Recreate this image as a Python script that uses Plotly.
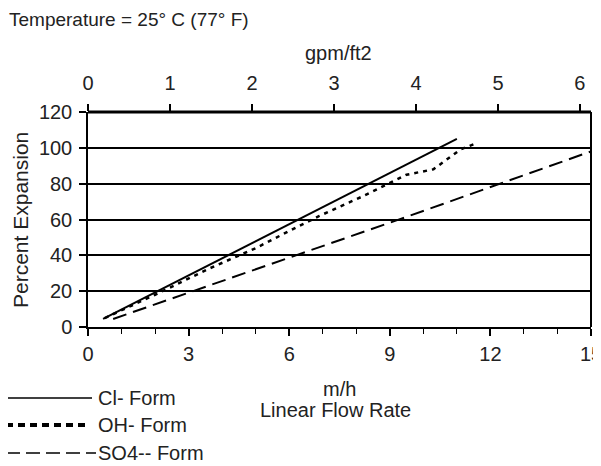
import plotly.graph_objects as go

# --- data ---
cl_x = [0.45, 11.0]
cl_y = [4.5, 105.0]
oh_x = [0.5, 2.0, 3.6, 5.0, 6.2, 6.9, 8.2, 9.5, 10.3, 11.1, 11.5]
oh_y = [5.0, 18.0, 32.5, 44.0, 55.5, 62.0, 73.0, 85.0, 88.0, 99.0, 102.0]
so4_x = [0.75, 3.0, 6.2, 9.2, 12.4, 15.0]
so4_y = [4.5, 19.0, 40.0, 59.5, 80.5, 98.0]

y_ticks = [0, 20, 40, 60, 80, 100, 120]
mh_ticks = [0, 3, 6, 9, 12, 15]
gpm_ticks = [0, 1, 2, 3, 4, 5, 6]
GPM_TO_MH = 2.445

series_names = ["Cl- Form", "OH- Form", "SO4-- Form"]

FONT = "Liberation Sans, Arial, sans-serif"
OFF = 8  # page body margin
W, H = 601 - OFF, 466 - OFF
# plot area in reference pixel coordinates
PL, PR, PT, PB = 88, 591, 112, 327
L, T = PL - OFF, PT - OFF
R, B = W - (PR - OFF), H - (PB - OFF)
PW, PH = PR - PL, PB - PT

def px(xp):
    return (xp - PL) / PW

def py(yp):
    return (PB - yp) / PH

fig = go.Figure()
fig.add_trace(go.Scatter(x=cl_x, y=cl_y, mode="lines", name=series_names[0],
                         line=dict(color="black", width=2)))
fig.add_trace(go.Scatter(x=oh_x, y=oh_y, mode="lines", name=series_names[1],
                         line=dict(color="black", width=2.5, dash="4px,5px")))
fig.add_trace(go.Scatter(x=so4_x, y=so4_y, mode="lines", name=series_names[2],
                         line=dict(color="black", width=2, dash="14px,7px")))
# invisible trace to bind the top (gpm/ft2) axis
fig.add_trace(go.Scatter(x=gpm_ticks, y=[None] * len(gpm_ticks), xaxis="x2",
                         mode="lines", showlegend=False, hoverinfo="skip"))

TF = dict(size=20, color="#222")
fig.update_layout(
    width=W, height=H,
    margin=dict(l=L, r=R, t=T, b=B, pad=0, autoexpand=False),
    paper_bgcolor="white", plot_bgcolor="white",
    showlegend=False,
    font=dict(family=FONT, size=20, color="#222"),
    xaxis=dict(range=[0, 15], tickvals=mh_ticks, ticks="outside", ticklen=7,
               tickwidth=1.5, tickcolor="black", showline=True, linecolor="black",
               linewidth=2, showgrid=False, zeroline=False, automargin=False,
               ticklabelstandoff=1, ticklabeloverflow="allow",
               minor=dict(dtick=1, ticks="outside", ticklen=5, tickcolor="black",
                          tickwidth=1.2, showgrid=False),
               tickfont=TF),
    xaxis2=dict(range=[0, 15 / GPM_TO_MH], overlaying="x", side="top",
                tickvals=gpm_ticks, ticks="outside", ticklen=7, tickwidth=1.5,
                tickcolor="black", showline=False, showgrid=False, zeroline=False,
                automargin=False, ticklabelstandoff=6, ticklabeloverflow="allow",
                tickfont=TF, anchor="y"),
    yaxis=dict(range=[0, 120], tickvals=y_ticks, ticks="outside", ticklen=7,
               tickwidth=1.5, tickcolor="black", showline=True, linecolor="black",
               linewidth=1.5, showgrid=True, gridcolor="black", gridwidth=1.5,
               zeroline=False, automargin=False, ticklabelstandoff=3, tickfont=TF),
)

# right border and thick top line
fig.add_shape(type="line", xref="paper", yref="paper", x0=1, x1=1, y0=0, y1=1,
              line=dict(color="black", width=2))
fig.add_shape(type="line", xref="paper", yref="paper", x0=0, x1=1, y0=1, y1=1,
              line=dict(color="black", width=3))

ann = []
ann.append(dict(text="Temperature = 25° C (77° F)", x=px(7), y=py(20), xanchor="left",
                yanchor="middle", font=dict(size=19)))
ann.append(dict(text="gpm/ft2", x=px(338), y=py(53), xanchor="center",
                yanchor="middle", font=dict(size=20)))
ann.append(dict(text="Percent Expansion", x=px(20), y=py(220), textangle=-90,
                xanchor="center", yanchor="middle", font=dict(size=21)))
ann.append(dict(text="m/h", x=px(339), y=py(389), xanchor="center",
                yanchor="middle", font=dict(size=20)))
ann.append(dict(text="Linear Flow Rate", x=px(335), y=py(410), xanchor="center",
                yanchor="middle", font=dict(size=20)))

leg_y = [398, 425, 453]
leg_styles = [dict(width=1.5, dash="solid"), dict(width=4, dash="7px,5px"),
              dict(width=1.5, dash="14px,6px")]
leg_x1 = [92, 86, 96]
for i, name in enumerate(series_names):
    fig.add_shape(type="line", xref="paper", yref="paper", x0=px(6), x1=px(leg_x1[i]),
                  y0=py(leg_y[i]), y1=py(leg_y[i]),
                  line=dict(color="black", **leg_styles[i]))
    ann.append(dict(text=name, x=px(96), y=py(leg_y[i]), xanchor="left",
                    yanchor="middle", font=dict(size=20)))

for a in ann:
    a.update(xref="paper", yref="paper", showarrow=False)
fig.update_layout(annotations=ann)

fig.write_html("out.html")
